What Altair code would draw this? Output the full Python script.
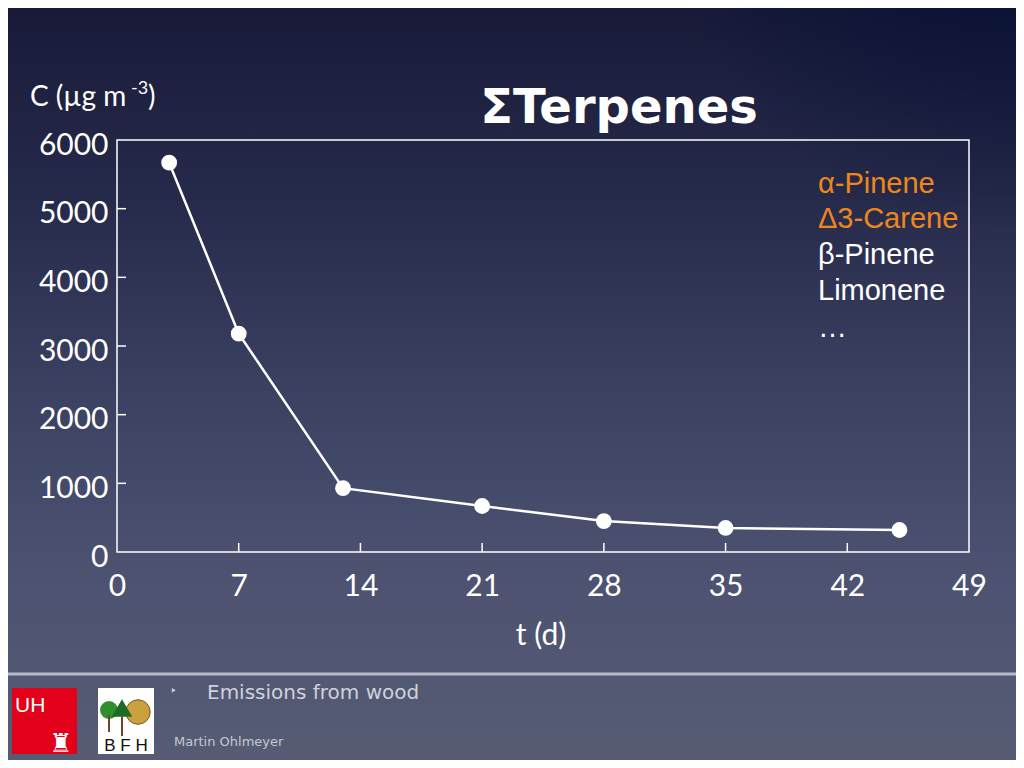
import altair as alt
import pandas as pd

# ---------------- data ----------------
days = [3, 7, 13, 21, 28, 35, 45]
conc = [5670, 3180, 930, 670, 450, 350, 320]
x_tick_values = [0, 7, 14, 21, 28, 35, 42, 49]
y_tick_values = [0, 1000, 2000, 3000, 4000, 5000, 6000]
inner_x_ticks = [7, 14, 21, 28, 35, 42]
inner_y_ticks = [1000, 2000, 3000, 4000, 5000]
compounds = ["α-Pinene", "Δ3-Carene", "β-Pinene", "Limonene", "…"]
compound_colors = ["#f0861a", "#f0861a", "#ffffff", "#ffffff", "#ffffff"]
title_text = "ΣTerpenes"
y_title = "C (µg m"
y_title_sup = "-3"
x_title = "t (d)"
footer_title = "Emissions from wood"
footer_author = "Martin Ohlmeyer"

# ---------------- layout ----------------
W, H = 852, 412
PL, PT = 109, 132
TW, TH = 1008, 752
legend_baselines = [53, 88, 124, 160, 197]

df = pd.DataFrame({"day": days, "conc": conc})
one = pd.DataFrame({"k": [0]})
xt = pd.DataFrame({"day": inner_x_ticks})
yt = pd.DataFrame({"conc": inner_y_ticks})

xscale = alt.Scale(domain=[0, 49], nice=False, zero=False)
yscale = alt.Scale(domain=[0, 6000], nice=False)

grad = alt.LinearGradient(
    gradient="linear",
    stops=[alt.GradientStop(color="#181a38", offset=0),
           alt.GradientStop(color="#262a4a", offset=0.25),
           alt.GradientStop(color="#3a4060", offset=0.5),
           alt.GradientStop(color="#4c5270", offset=0.75),
           alt.GradientStop(color="#575c74", offset=1)],
    x1=0, x2=0, y1=0, y2=1)

bg = alt.Chart(one).mark_rect(color=grad).encode(
    x=alt.value(-PL), x2=alt.value(TW - PL), y=alt.value(-PT), y2=alt.value(TH - PT))

rad = alt.RadialGradient(
    gradient="radial",
    stops=[alt.GradientStop(color="rgba(2,14,52,0.9)", offset=0),
           alt.GradientStop(color="rgba(2,14,52,0)", offset=1)],
    x1=1, y1=0, r1=0, x2=1, y2=0, r2=0.35)
bg2 = alt.Chart(one).mark_rect(color=rad).encode(
    x=alt.value(-PL), x2=alt.value(TW - PL), y=alt.value(-PT), y2=alt.value(TH - PT))

sep = alt.Chart(one).mark_rule(color="#b8bcc8", strokeWidth=3).encode(
    x=alt.value(-PL), x2=alt.value(TW - PL), y=alt.value(534))

frame = alt.Chart(one).mark_rect(fillOpacity=0, stroke="white", strokeWidth=1.5).encode(
    x=alt.value(0), x2=alt.value(W), y=alt.value(0), y2=alt.value(H))

base_axes = alt.Chart(df).mark_line(color="white", strokeWidth=2.5).encode(
    x=alt.X("day:Q", scale=xscale,
            axis=alt.Axis(values=x_tick_values, title=None, domain=False, ticks=False,
                          grid=False, labelFont="Lato", labelFontSize=30,
                          labelColor="white", labelPadding=19, labelFlush=False,
                          format="d", zindex=2)),
    y=alt.Y("conc:Q", scale=yscale,
            axis=alt.Axis(values=y_tick_values, title=None, domain=False, ticks=False,
                          grid=False, labelFont="Lato", labelFontSize=30,
                          labelColor="white", labelPadding=9, labelFlush=False,
                          labelOffset=5, format="d", zindex=2)))

pts = alt.Chart(df).mark_circle(size=250, color="white", opacity=1).encode(
    x=alt.X("day:Q", scale=xscale), y=alt.Y("conc:Q", scale=yscale))

xticks = alt.Chart(xt).mark_rule(color="white", strokeWidth=1.5).encode(
    x=alt.X("day:Q", scale=xscale), y=alt.value(H), y2=alt.value(H - 9))
yticks = alt.Chart(yt).mark_rule(color="white", strokeWidth=1.5).encode(
    y=alt.Y("conc:Q", scale=yscale), x=alt.value(0), x2=alt.value(9))


def txt(text, x, y, size, font="Lato", color="white", weight="normal", align="left",
        baseline="alphabetic"):
    return alt.Chart(one).mark_text(
        text=text, font=font, fontSize=size, color=color, fontWeight=weight,
        align=align, baseline=baseline).encode(x=alt.value(x), y=alt.value(y))


legend_layers = [txt(name, 701, yb, 29, font="Liberation Sans", color=col)
                 for name, col, yb in zip(compounds, compound_colors, legend_baselines)]

title = txt(title_text, 502, -17, 48, font="DejaVu Sans", weight="bold", align="center")
ytitle = txt(y_title, -87, -34, 28)
ysup = txt(y_title_sup, 14, -46, 18)
yclose = txt(")", 31, -34, 28)
xtitle = txt(x_title, 424, 505, 30, align="center")

bullet = txt("‣", 53, 551, 12, font="DejaVu Sans", color="#c9ccd6", baseline="middle")
ftitle = txt(footer_title, 90, 559, 20, font="DejaVu Sans", color="#cfd2dc")
fauthor = txt(footer_author, 57, 606, 13, font="DejaVu Sans", color="#c4c8d2")

# logos (decoration)
uh_box = alt.Chart(one).mark_rect(color="#e3001b").encode(
    x=alt.value(-105), x2=alt.value(-40), y=alt.value(548), y2=alt.value(614))
uh_txt = txt("UH", -102, 572, 21, font="Liberation Sans")
uh_castle = txt("♜", -56, 612, 26, font="DejaVu Sans", align="center")

bfh_box = alt.Chart(one).mark_rect(color="white").encode(
    x=alt.value(-19), x2=alt.value(37), y=alt.value(548), y2=alt.value(614))
bfh_log = alt.Chart(one).mark_point(shape="circle", size=600, filled=True,
                                    color="#c9a23f", stroke="#7a5a1a", strokeWidth=1,
                                    opacity=1).encode(
    x=alt.value(21), y=alt.value(572))
bfh_tree1 = alt.Chart(one).mark_point(shape="circle", size=320, filled=True,
                                      color="#2f8f2f", opacity=1).encode(
    x=alt.value(-8), y=alt.value(570))
bfh_tree2 = alt.Chart(one).mark_point(shape="triangle-up", size=420, filled=True,
                                      color="#1e6a22", opacity=1).encode(
    x=alt.value(5), y=alt.value(568))
bfh_trunk = alt.Chart(one).mark_rule(color="#6b4a2a", strokeWidth=2).encode(
    x=alt.value(-8), y=alt.value(575), y2=alt.value(592))
bfh_trunk2 = alt.Chart(one).mark_rule(color="#6b4a2a", strokeWidth=2).encode(
    x=alt.value(5), y=alt.value(572), y2=alt.value(596))
bfh_txt = txt("B F H", 9, 611, 17, font="Liberation Sans", color="#111111", align="center")

chart = alt.layer(
    bg, bg2, sep, base_axes, pts, frame, xticks, yticks, *legend_layers,
    title, ytitle, ysup, yclose, xtitle, bullet, ftitle, fauthor,
    uh_box, uh_txt, uh_castle, bfh_box, bfh_log, bfh_tree1, bfh_trunk, bfh_trunk2,
    bfh_tree2, bfh_txt
).properties(
    width=W, height=H,
    padding={"left": PL, "top": PT, "right": TW - PL - W, "bottom": TH - PT - H},
    autosize=alt.AutoSizeParams(type="none"),
    background="#1a1b3a",
).configure_view(stroke="transparent")

chart.save("out.html", embed_options={"renderer": "svg", "actions": False})
